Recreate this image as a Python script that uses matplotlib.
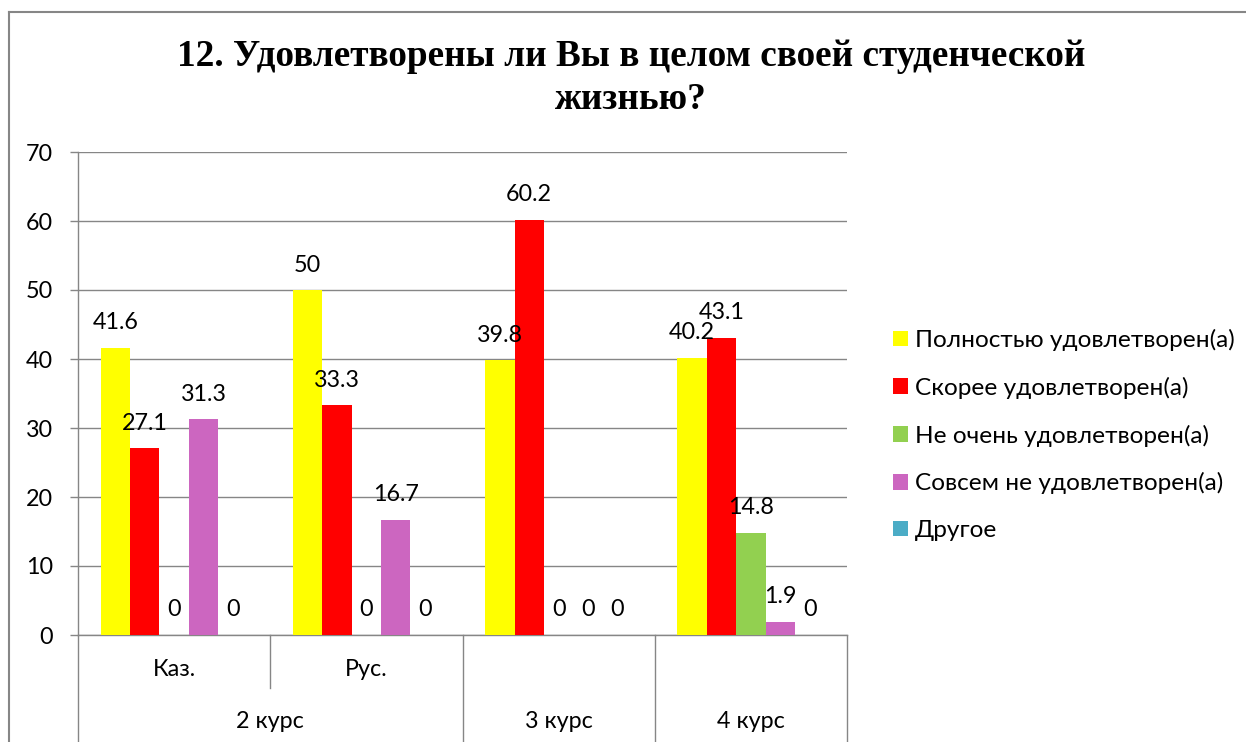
import matplotlib
matplotlib.use('Agg')
import numpy as np
import matplotlib.pyplot as plt
from matplotlib.lines import Line2D

# Data
groups = ['Каз.', 'Рус.', '', '']
courses = ['2 курс', '3 курс', '4 курс']
course_spans = [(0, 1), (2, 2), (3, 3)]  # group index range for each course

series_names = ['Полностью удовлетворен(а)', 'Скорее удовлетворен(а)',
                'Не очень удовлетворен(а)', 'Совсем не удовлетворен(а)', 'Другое']
fully = [41.6, 50, 39.8, 40.2]
rather = [27.1, 33.3, 60.2, 43.1]
not_very = [0, 0, 0, 14.8]
not_at_all = [31.3, 16.7, 0, 1.9]
other = [0, 0, 0, 0]
series_values = [fully, rather, not_very, not_at_all, other]
colors = ['#FFFF00', '#FF0000', '#92D050', '#CC66C0', '#4BACC6']

title = '12. Удовлетворены ли Вы в целом своей студенческой\nжизнью?'

SANS = ['Lato', 'DejaVu Sans']
GRAY = '#868686'
FS = 16.8

fig = plt.figure(figsize=(12.46, 7.42), dpi=100)
ax = fig.add_axes([78 / 1246, 107 / 742, (847 - 78) / 1246, (635 - 152) / 742])

x = np.arange(len(groups))
bw = 0.153
for i, (name, vals, c) in enumerate(zip(series_names, series_values, colors)):
    pos = x + (i - 2) * bw
    ax.bar(pos, vals, width=bw, color=c, label=name, zorder=3)
    for px, v in zip(pos, vals):
        ax.annotate(f'{v:g}', (px, v), xytext=(0, 18), textcoords='offset points',
                    ha='center', va='center', fontsize=FS, family=SANS, zorder=4)

ax.set_xlim(-0.5, len(groups) - 0.5)
ax.set_ylim(0, 70)
ax.set_yticks(range(0, 71, 10))
ax.grid(axis='y', color=GRAY, linewidth=1.0, zorder=0)
ax.tick_params(axis='y', direction='out', length=6, width=1.0, color=GRAY,
               pad=12, labelsize=FS)
for lbl in ax.get_yticklabels():
    lbl.set_family(SANS)
ax.set_xticks([])
for s in ['top', 'right']:
    ax.spines[s].set_visible(False)
for s in ['left', 'bottom']:
    ax.spines[s].set_color(GRAY)
    ax.spines[s].set_linewidth(1.0)
ax.spines['left'].set_zorder(5)

# multi-level category axis
tr = ax.get_xaxis_transform()
y_low = -(742 - 635) / 483 - 0.01
y_mid = -(688 - 635) / 483
for b in [x[0] - 0.5] + [e + 0.5 for _, e in course_spans]:
    ax.add_line(Line2D([b, b], [0, y_low], transform=tr, color=GRAY, lw=1.0, clip_on=False))
for s, e in course_spans:
    for b in range(s, e):
        ax.add_line(Line2D([b + 0.5, b + 0.5], [0, y_mid], transform=tr, color=GRAY,
                           lw=1.0, clip_on=False))
for gx, name in zip(x, groups):
    ax.text(gx, -(670 - 635) / 483, name, transform=tr, ha='center', va='center',
            fontsize=FS, family=SANS)
for (s, e), name in zip(course_spans, courses):
    ax.text((s + e) / 2, -(721 - 635) / 483, name, transform=tr, ha='center',
            va='center', fontsize=FS, family=SANS)

# legend
leg = ax.legend(loc='upper left', bbox_to_anchor=(893 / 1246, 1 - 329 / 742),
                bbox_transform=fig.transFigure, frameon=False, fontsize=17.6,
                handlelength=0.6, handleheight=0.6, handletextpad=0.3,
                labelspacing=1.05, borderaxespad=0, borderpad=0)
for t in leg.get_texts():
    t.set_family(SANS)

# title
fig.text(631 / 1246, 1 - 78 / 742, title, ha='center', va='center', fontsize=26.8,
         fontweight='bold', family=['Liberation Serif', 'DejaVu Serif'], linespacing=1.32)

# chart border (cut off at the right and bottom of the picture)
fig.add_artist(Line2D([9 / 1246, 9 / 1246], [0, 1 - 12 / 742], transform=fig.transFigure,
                      color=GRAY, lw=1.5))
fig.add_artist(Line2D([9 / 1246, 1], [1 - 12 / 742, 1 - 12 / 742], transform=fig.transFigure,
                      color=GRAY, lw=1.5))

plt.savefig('out.png', dpi=100, facecolor='white')
